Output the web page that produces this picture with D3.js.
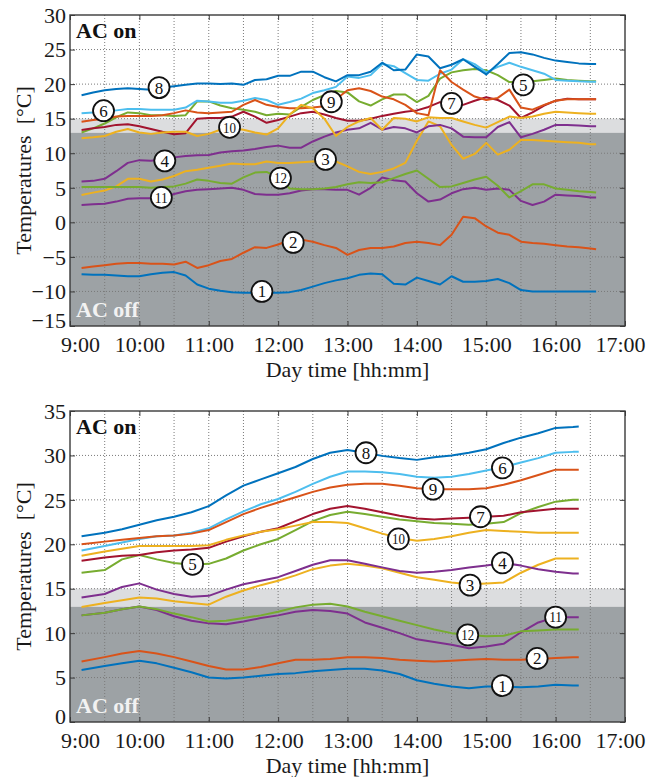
<!DOCTYPE html>
<html>
<head>
<meta charset="utf-8">
<script src="https://cdn.jsdelivr.net/npm/d3@7"></script>
<style>
  body { margin: 0; background: #fff; }
  svg text { font-family: 'Liberation Serif', 'Times New Roman', serif; }
</style>
</head>
<body>
<div id="chart"></div>
<script>
// ---------------------------------------------------------------------------
// DATA
// ---------------------------------------------------------------------------
const colors = ['#0072BD', '#D95319', '#EDB120', '#7E2F8E', '#77AC30', '#4DBEEE', '#A2142F',
  '#0072BD', '#D95319', '#EDB120', '#7E2F8E', '#77AC30'];
const seriesNames = ['1', '2', '3', '4', '5', '6', '7', '8', '9', '10', '11', '12'];
const hourTicks = ['9:00', '10:00', '11:00', '12:00', '13:00', '14:00', '15:00', '16:00', '17:00'];

// upper panel (AC off: -15 .. 30 °C)
const topTimes = ['9:10', '9:20', '9:30', '9:40', '9:50', '10:00', '10:10', '10:20', '10:30', '10:40', '10:50',
  '11:00', '11:10', '11:20', '11:30', '11:40', '11:50', '12:00', '12:10', '12:20', '12:30', '12:40', '12:50',
  '13:00', '13:10', '13:20', '13:30', '13:40', '13:50', '14:00', '14:10', '14:20', '14:30', '14:40', '14:50',
  '15:00', '15:10', '15:20', '15:30', '15:40', '15:50', '16:00', '16:10', '16:20', '16:30', '16:35'];
const top1 = [-7.5, -7.6, -7.6, -7.7, -7.8, -7.8, -7.5, -7.3, -7.2, -7.7, -9.0, -9.6, -9.9, -10.1, -10.2, -10.2,
  -10.2, -10.2, -10.1, -9.8, -9.3, -8.8, -8.4, -8.1, -7.6, -7.4, -7.5, -8.9, -9.0, -8.0, -8.5, -9.0, -7.8, -8.6,
  -8.6, -8.5, -8.2, -8.8, -9.8, -10.0, -10.0, -10.0, -10.0, -10.0, -10.0, -10.0];
const top2 = [-6.6, -6.4, -6.2, -6.0, -5.9, -5.9, -6.0, -6.0, -6.1, -5.7, -6.6, -6.2, -5.6, -5.3, -4.4, -3.6,
  -3.7, -3.2, -2.6, -2.5, -2.8, -3.3, -3.7, -4.7, -4.0, -3.7, -3.7, -3.5, -3.0, -2.8, -3.0, -3.3, -1.8, 0.8,
  0.6, -0.6, -1.5, -1.8, -2.8, -3.0, -3.1, -3.3, -3.5, -3.6, -3.8, -3.9];
const top3 = [3.95, 4.3, 4.6, 5.2, 6.3, 6.3, 5.9, 6.2, 6.7, 7.4, 7.6, 7.9, 8.2, 8.5, 8.4, 8.4, 8.8, 8.6, 8.6,
  8.7, 8.8, 8.8, 8.8, 8.1, 7.3, 7.0, 7.3, 7.8, 8.6, 11.8, 14.6, 13.9, 11.2, 9.2, 9.9, 11.5, 9.8, 10.5, 11.9,
  11.9, 11.8, 11.7, 11.6, 11.5, 11.3, 11.3];
const top4 = [5.9, 6.0, 6.3, 7.4, 8.6, 9.0, 8.9, 9.1, 9.4, 9.6, 9.7, 9.75, 10.1, 10.3, 10.4, 10.6, 10.9, 11.1,
  10.8, 10.8, 11.7, 12.4, 13.0, 13.4, 13.6, 14.4, 13.4, 13.8, 13.6, 13.0, 13.9, 14.1, 13.6, 12.4, 12.3, 12.3,
  13.8, 14.5, 12.3, 12.8, 13.4, 14.1, 14.1, 14.0, 13.9, 13.9];
const top5 = [13.0, 13.6, 14.3, 15.2, 15.9, 15.8, 15.5, 15.5, 15.4, 15.5, 17.5, 17.5, 16.9, 16.5, 16.3, 16.0,
  15.5, 15.7, 15.6, 16.7, 17.7, 18.4, 19.0, 18.8, 17.5, 16.9, 17.8, 18.5, 18.5, 17.4, 18.3, 20.8, 21.7, 22.0,
  22.2, 22.0, 21.3, 20.3, 20.3, 20.4, 20.6, 20.8, 20.6, 20.5, 20.4, 20.4];
const top6 = [15.8, 15.9, 16.0, 16.2, 16.4, 16.4, 16.3, 16.3, 16.3, 16.6, 17.6, 17.5, 17.3, 17.3, 17.6, 18.0,
  17.7, 17.0, 17.4, 17.9, 18.7, 19.1, 19.6, 21.1, 20.9, 21.3, 22.9, 22.6, 21.6, 20.6, 20.5, 21.5, 22.1, 23.6,
  22.9, 21.7, 22.5, 23.1, 22.5, 22.0, 21.5, 20.6, 20.5, 20.4, 20.35, 20.35];
const top7 = [13.35, 13.6, 13.8, 14.1, 14.2, 13.9, 13.5, 13.1, 12.75, 12.9, 15.0, 15.1, 15.1, 15.3, 16.0, 15.3,
  14.4, 14.8, 15.3, 15.8, 16.0, 15.6, 15.1, 14.7, 14.7, 15.0, 15.4, 15.7, 16.0, 16.2, 16.7, 17.4, 16.8, 17.0,
  17.6, 18.1, 17.7, 16.9, 15.1, 15.9, 16.9, 17.6, 17.9, 17.8, 17.8, 17.8];
const top8 = [18.4, 18.8, 19.1, 19.3, 19.4, 19.3, 19.2, 19.5, 19.7, 19.9, 20.1, 20.1, 20.0, 20.1, 19.9, 20.6,
  20.7, 21.2, 21.2, 21.8, 21.8, 21.0, 20.4, 21.3, 21.3, 21.8, 23.1, 22.0, 22.1, 24.3, 24.0, 22.3, 22.8, 23.6,
  22.5, 21.4, 22.9, 24.5, 24.6, 24.3, 23.8, 23.4, 23.2, 23.0, 22.9, 22.9];
const top9 = [14.55, 14.8, 15.0, 15.3, 15.4, 15.4, 15.4, 15.5, 15.8, 16.2, 15.9, 15.8, 15.9, 16.0, 17.0, 17.7,
  17.0, 16.7, 16.5, 16.5, 16.6, 16.8, 17.8, 19.1, 19.4, 19.0, 18.2, 17.8, 17.0, 15.8, 15.5, 22.0, 20.3, 19.2,
  18.2, 17.7, 18.0, 19.2, 16.6, 16.3, 17.0, 17.6, 17.8, 17.8, 17.8, 17.8];
const top10 = [12.15, 12.3, 12.5, 13.1, 13.5, 13.0, 12.8, 13.0, 13.1, 13.1, 12.5, 12.8, 13.4, 13.6, 13.4, 13.0,
  12.7, 13.6, 15.6, 17.0, 16.5, 15.0, 12.5, 13.8, 14.6, 15.1, 13.4, 15.1, 15.0, 14.6, 15.2, 15.1, 15.1, 14.6,
  14.1, 13.7, 14.5, 15.3, 15.1, 15.3, 15.7, 16.0, 15.9, 15.8, 15.7, 15.7];
const top11 = [2.5, 2.6, 2.7, 3.0, 3.4, 3.5, 3.5, 3.6, 4.1, 4.5, 4.7, 4.8, 4.9, 5.0, 4.7, 4.1, 4.0, 4.0, 4.2,
  4.6, 4.8, 4.8, 4.7, 4.7, 4.0, 5.0, 6.5, 6.1, 5.9, 4.2, 3.0, 3.3, 4.2, 4.8, 5.0, 4.7, 4.9, 4.7, 3.1, 2.5, 3.0,
  4.0, 3.9, 3.8, 3.6, 3.6];
const top12 = [5.1, 5.1, 5.1, 5.1, 5.1, 5.1, 5.0, 5.1, 5.2, 5.6, 6.2, 6.0, 5.7, 5.6, 6.5, 7.2, 7.3, 6.5, 4.9,
  4.8, 4.8, 4.9, 5.1, 5.5, 5.8, 5.7, 5.8, 6.4, 7.0, 7.5, 6.3, 5.1, 5.2, 5.7, 6.2, 6.6, 5.3, 3.6, 4.5, 5.5, 5.5,
  4.9, 4.7, 4.5, 4.4, 4.3];
const topLabelTimes = ['11:46', '12:13', '12:41', '10:22', '15:32', '9:29', '14:30', '10:17', '12:46', '11:18', '10:19', '12:02'];
const topLabelValues = [-10.0, -2.9, 9.1, 8.9, 19.9, 16.15, 17.2, 19.5, 17.45, 13.75, 3.6, 6.4];

// lower panel (AC off: 0 .. 35 °C)
const botTimes = ['9:10', '9:30', '9:45', '10:00', '10:15', '10:30', '10:45', '11:00', '11:15', '11:30', '11:45',
  '12:00', '12:15', '12:30', '12:45', '13:00', '13:15', '13:30', '13:45', '14:00', '14:15', '14:30', '14:45',
  '15:00', '15:15', '15:30', '15:45', '16:00', '16:15', '16:20'];
const bot1 = [5.85, 6.3, 6.6, 6.9, 6.6, 6.1, 5.6, 5.0, 4.9, 5.0, 5.2, 5.4, 5.5, 5.7, 5.85, 6.0, 6.0, 5.8, 5.4,
  4.7, 4.3, 4.0, 3.8, 4.0, 4.0, 3.9, 4.0, 4.2, 4.1, 4.1];
const bot2 = [6.8, 7.3, 7.7, 8.0, 7.7, 7.3, 6.8, 6.3, 5.9, 5.9, 6.2, 6.6, 7.0, 7.0, 7.1, 7.3, 7.3, 7.2, 7.0,
  6.9, 6.8, 6.9, 7.0, 7.1, 7.0, 7.0, 7.1, 7.2, 7.3, 7.3];
const bot3 = [12.95, 13.4, 13.7, 14.0, 13.9, 13.6, 13.4, 13.2, 14.1, 14.8, 15.4, 15.9, 16.5, 17.2, 17.6, 17.8,
  17.6, 17.3, 16.8, 16.3, 16.0, 15.7, 15.5, 15.6, 15.7, 16.8, 17.7, 18.4, 18.4, 18.4];
const bot4 = [14.0, 14.4, 15.2, 15.6, 14.9, 14.4, 14.1, 14.2, 14.9, 15.5, 15.9, 16.3, 17.0, 17.7, 18.2, 18.2,
  17.8, 17.4, 17.0, 16.8, 16.9, 17.1, 17.4, 17.6, 17.9, 17.6, 17.2, 16.9, 16.7, 16.7];
const bot5 = [16.8, 17.1, 18.3, 18.8, 18.3, 17.9, 17.7, 17.8, 18.4, 19.3, 20.0, 20.6, 21.6, 22.6, 23.3, 23.65,
  23.4, 23.1, 22.8, 22.6, 22.4, 22.3, 22.2, 22.3, 22.5, 23.5, 24.2, 24.8, 25.0, 25.0];
const bot6 = [19.3, 19.8, 20.2, 20.6, 20.9, 21.0, 21.3, 21.8, 22.8, 23.7, 24.5, 25.1, 25.9, 26.8, 27.6, 28.2,
  28.2, 28.1, 27.9, 27.6, 27.5, 27.6, 27.9, 28.3, 28.7, 29.2, 29.7, 30.3, 30.4, 30.4];
const bot7 = [18.15, 18.5, 18.7, 18.8, 19.1, 19.3, 19.4, 19.6, 20.3, 20.9, 21.4, 21.8, 22.6, 23.4, 24.0, 24.3,
  24.0, 23.6, 23.2, 22.9, 22.8, 22.9, 23.0, 23.1, 23.2, 23.6, 23.8, 24.0, 24.0, 24.0];
const bot8 = [20.9, 21.3, 21.7, 22.2, 22.7, 23.1, 23.6, 24.3, 25.5, 26.6, 27.3, 28.0, 28.7, 29.6, 30.3, 30.6,
  30.3, 29.95, 29.7, 29.5, 29.8, 30.0, 30.3, 30.7, 31.4, 32.0, 32.5, 33.1, 33.2, 33.25];
const bot9 = [20.0, 20.3, 20.5, 20.7, 20.9, 21.0, 21.2, 21.6, 22.5, 23.4, 24.1, 24.7, 25.3, 25.9, 26.4, 26.7,
  26.8, 26.8, 26.6, 26.3, 26.2, 26.2, 26.2, 26.3, 26.7, 27.2, 27.8, 28.4, 28.4, 28.4];
const bot10 = [18.7, 19.2, 19.5, 19.8, 19.8, 19.8, 19.8, 19.9, 20.5, 21.0, 21.4, 21.7, 22.1, 22.5, 22.5, 22.4,
  21.8, 21.2, 20.7, 20.4, 20.6, 20.9, 21.3, 21.6, 21.5, 21.4, 21.3, 21.3, 21.3, 21.3];
const bot11 = [12.0, 12.3, 12.7, 13.0, 12.6, 11.9, 11.4, 11.1, 11.0, 11.3, 11.7, 12.0, 12.4, 12.6, 12.5, 12.2,
  11.2, 10.6, 10.0, 9.3, 9.0, 8.7, 8.3, 8.5, 8.8, 10.1, 11.2, 11.8, 11.8, 11.8];
const bot12 = [12.0, 12.3, 12.7, 13.0, 12.7, 12.2, 11.8, 11.3, 11.4, 11.7, 12.0, 12.4, 12.9, 13.2, 13.3, 13.0,
  12.4, 11.9, 11.4, 10.9, 10.4, 10.0, 9.8, 9.65, 9.7, 10.2, 10.3, 10.4, 10.4, 10.4];
const botLabelTimes = ['15:14', '15:44', '14:46', '15:14', '10:46', '15:14', '14:55', '13:16', '14:14', '13:44', '16:00', '14:44'];
const botLabelValues = [4.1, 7.15, 15.4, 17.9, 17.75, 28.6, 23.1, 30.3, 26.2, 20.6, 11.8, 9.8];

// comfort band drawn behind the curves
const bandLow = 13;
const bandHigh = 15;

// ---------------------------------------------------------------------------
// SETUP
// ---------------------------------------------------------------------------
const parseTime = d3.timeParse('%H:%M');
const plotLeft = 70;
const plotRight = 625;

const svg = d3.select('#chart').append('svg')
  .attr('width', 660)
  .attr('height', 777);

const x = d3.scaleTime()
  .domain([parseTime('9:00'), parseTime('17:00')])
  .range([plotLeft, plotRight]);

const panels = [
  {
    top: 15, bottom: 326, yMin: -15, yMax: 30, times: topTimes,
    series: [top1, top2, top3, top4, top5, top6, top7, top8, top9, top10, top11, top12],
    labelTimes: topLabelTimes, labelValues: topLabelValues,
  },
  {
    top: 411, bottom: 722, yMin: 0, yMax: 35, times: botTimes,
    series: [bot1, bot2, bot3, bot4, bot5, bot6, bot7, bot8, bot9, bot10, bot11, bot12],
    labelTimes: botLabelTimes, labelValues: botLabelValues,
  },
];

// ---------------------------------------------------------------------------
// DRAW ONE PANEL
// ---------------------------------------------------------------------------
function drawPanel(p) {
  const y = d3.scaleLinear().domain([p.yMin, p.yMax]).range([p.bottom, p.top]);
  const g = svg.append('g');
  const w = plotRight - plotLeft;
  const times = p.times.map(parseTime);

  // AC off area and transition band
  g.append('rect')
    .attr('x', plotLeft).attr('width', w)
    .attr('y', y(bandLow)).attr('height', y(p.yMin) - y(bandLow))
    .attr('fill', '#9da2a5');
  g.append('rect')
    .attr('x', plotLeft).attr('width', w)
    .attr('y', y(bandHigh)).attr('height', y(bandLow) - y(bandHigh))
    .attr('fill', '#dcdddf');

  // dotted grid
  const halfHours = d3.timeMinute.every(30).range(parseTime('9:30'), parseTime('17:00'));
  const yGrid = d3.range(p.yMin + 5, p.yMax, 5);
  g.append('g').selectAll('line')
    .data(halfHours)
    .join('line')
      .attr('x1', d => x(d)).attr('x2', d => x(d))
      .attr('y1', p.top).attr('y2', p.bottom);
  g.append('g').selectAll('line')
    .data(yGrid)
    .join('line')
      .attr('x1', plotLeft).attr('x2', plotRight)
      .attr('y1', d => y(d)).attr('y2', d => y(d));
  g.selectAll('line')
    .attr('stroke', '#7a7a7a')
    .attr('stroke-width', 1)
    .attr('stroke-dasharray', '1,2');

  // temperature curves
  const line = d3.line()
    .x((d, i) => x(times[i]))
    .y(d => y(d));

  g.append('g').selectAll('path')
    .data(p.series)
    .join('path')
      .attr('d', line)
      .attr('fill', 'none')
      .attr('stroke', (d, i) => colors[i])
      .attr('stroke-width', 2)
      .attr('stroke-linejoin', 'round');

  // frame
  g.append('rect')
    .attr('x', plotLeft).attr('y', p.top)
    .attr('width', w).attr('height', p.bottom - p.top)
    .attr('fill', 'none')
    .attr('stroke', '#3a3a3a')
    .attr('stroke-width', 1.4);

  // axes (inward ticks)
  const hourDates = hourTicks.map(parseTime);
  const xAxis = g.append('g')
    .attr('transform', `translate(0, ${p.bottom})`)
    .call(d3.axisBottom(x).tickValues(hourDates).tickFormat((d, i) => hourTicks[i])
      .tickSizeInner(-5).tickSizeOuter(0));
  xAxis.selectAll('text')
    .attr('y', 26).attr('dy', null)
    .attr('dx', (d, i) => (i === 0 ? 10 : (i === hourTicks.length - 1 ? -5 : 0)))
    .style('font-size', '22px')
    .attr('fill', '#1a1a1a');

  const yAxis = g.append('g')
    .attr('transform', `translate(${plotLeft}, 0)`)
    .call(d3.axisLeft(y).tickValues(d3.range(p.yMin, p.yMax + 1, 5))
      .tickSizeInner(-5).tickSizeOuter(0).tickPadding(4));
  // lowest label sits a little above the x axis, as in the original
  yAxis.selectAll('text')
    .attr('dy', '0.33em')
    .attr('y', d => (d === p.yMin ? -6 : 0))
    .style('font-size', '22px')
    .attr('fill', '#1a1a1a');

  g.append('g')
    .attr('transform', `translate(0, ${p.top})`)
    .call(d3.axisTop(x).tickValues(hourDates).tickFormat('').tickSizeInner(-5).tickSizeOuter(0));
  g.append('g')
    .attr('transform', `translate(${plotRight}, 0)`)
    .call(d3.axisRight(y).tickValues(d3.range(p.yMin, p.yMax + 1, 5)).tickFormat('')
      .tickSizeInner(-5).tickSizeOuter(0));

  g.selectAll('.domain').remove();
  g.selectAll('.tick line').attr('stroke', '#3a3a3a');

  // axis titles
  g.append('text')
    .attr('x', (plotLeft + plotRight) / 2)
    .attr('y', p.bottom + 51)
    .attr('text-anchor', 'middle')
    .style('font-size', '22px')
    .attr('fill', '#1a1a1a')
    .text('Day time [hh:mm]');

  g.append('text')
    .attr('transform', `translate(31, ${(p.top + p.bottom) / 2}) rotate(-90)`)
    .attr('text-anchor', 'middle')
    .style('font-size', '22px')
    .style('white-space', 'pre')
    .attr('fill', '#1a1a1a')
    .text('Temperatures  [°C]');

  // AC state captions
  g.append('text')
    .attr('x', plotLeft + 6).attr('y', p.top + 23)
    .style('font-size', '22px').style('font-weight', 'bold')
    .attr('fill', '#111')
    .text('AC on');
  g.append('text')
    .attr('x', plotLeft + 6).attr('y', p.bottom - 9)
    .style('font-size', '22px').style('font-weight', 'bold')
    .attr('fill', '#f2f2f2')
    .text('AC off');

  // circled series numbers
  const labels = g.append('g').selectAll('g')
    .data(seriesNames)
    .join('g')
      .attr('transform', (d, i) => `translate(${x(parseTime(p.labelTimes[i]))}, ${y(p.labelValues[i])})`);

  labels.append('circle')
    .attr('r', 10.5)
    .attr('fill', '#fff')
    .attr('stroke', '#111')
    .attr('stroke-width', 1.8);

  labels.append('text')
    .attr('text-anchor', 'middle')
    .attr('dy', '0.35em')
    .style('font-size', d => (d.length > 1 ? '15px' : '17px'))
    .attr('textLength', d => (d.length > 1 ? 13 : null))
    .attr('lengthAdjust', 'spacingAndGlyphs')
    .attr('fill', '#111')
    .text(d => d);
}

panels.forEach(drawPanel);
</script>
</body>
</html>
